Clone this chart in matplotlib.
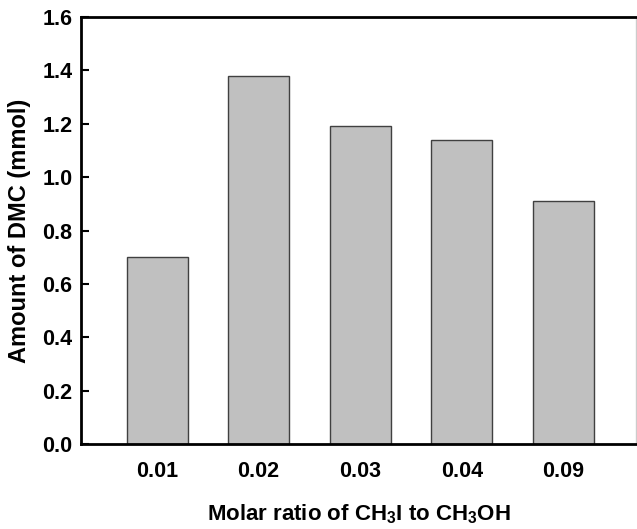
import numpy as np
import matplotlib as mp
mp.use('Agg')
import matplotlib.pyplot as plt

plt.rcParams['font.family'] = ['Liberation Sans', 'DejaVu Sans']
plt.rcParams['font.weight'] = 'bold'
plt.rcParams['axes.labelweight'] = 'bold'
plt.rcParams['mathtext.fontset'] = 'custom'
plt.rcParams['mathtext.rm'] = 'Liberation Sans:bold'
plt.rcParams['mathtext.bf'] = 'Liberation Sans:bold'

# molar ratio CH3I / CH3OH vs amount of DMC
ratios = ['0.01', '0.02', '0.03', '0.04', '0.09']
dmc = [0.70, 1.38, 1.19, 1.14, 0.91]
yticks = [0.0, 0.2, 0.4, 0.6, 0.8, 1.0, 1.2, 1.4, 1.6]

fig = plt.figure(figsize=(6.37, 5.29), dpi=100)
ax1 = fig.add_axes([0.127, 0.1607, 0.872, 0.807])

x = np.arange(len(dmc))
ax1.bar(x, dmc, width=0.6, color='#c0c0c0', edgecolor='#404040', linewidth=1.0)

ax1.set_xlim(-0.75, 4.72)
ax1.set_ylim(0., 1.6)
ax1.set_xticks(x)
ax1.set_xticklabels(ratios)
ax1.set_yticks(yticks)
ax1.set_yticklabels(['%.1f' % v for v in yticks])

ax1.tick_params(axis='y', direction='in', length=6, width=1.5, labelsize=15.5, pad=6)
ax1.tick_params(axis='x', length=0, labelsize=15.5, pad=12)
for s in ax1.spines.values():
    s.set_linewidth(2.0)
ax1.spines['right'].set_color('#cccccc')
ax1.spines['right'].set_linewidth(1.0)

ax1.set_ylabel('Amount of DMC (mmol)', fontsize=17, fontweight='bold', labelpad=8)
ax1.set_xlabel(r'Molar ratio of CH$_\mathbf{3}$I to CH$_\mathbf{3}$OH', fontsize=16,
               fontweight='bold', labelpad=15)

plt.savefig('out.png', dpi=100)
